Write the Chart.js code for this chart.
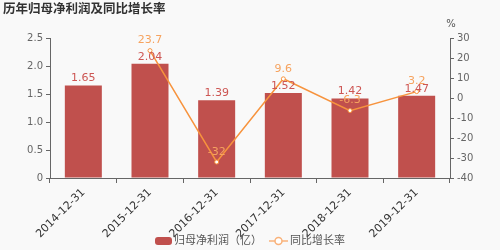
<!DOCTYPE html>
<html>
<head>
<meta charset="utf-8">
<script src="https://cdn.jsdelivr.net/npm/chart.js@4"></script>
<style>
  html, body { margin: 0; padding: 0; background: #f9f9f9; }
  #wrap { width: 500px; height: 250px; position: relative; }
</style>
</head>
<body>
<div id="wrap"><canvas id="chart" width="500" height="250"></canvas></div>
<script>
const categories = ['2014-12-31', '2015-12-31', '2016-12-31', '2017-12-31', '2018-12-31', '2019-12-31'];
const profitValues = [1.65, 2.04, 1.39, 1.52, 1.42, 1.47];
const growthValues = [null, 23.7, -32, 9.6, -6.3, 3.2];
const growthLabels = ['', '23.7', '-32', '9.6', '-6.3', '3.2'];

const FONT = '"DejaVu Sans", "Noto Sans CJK SC", sans-serif';
const BAR_COLOR = '#c0504d';
const LINE_COLOR = '#f7933d';

// labels over bars and points, title, legend, % unit
const decorPlugin = {
  id: 'decor',
  afterDatasetsDraw(chart) {
    const ctx = chart.ctx;
    ctx.save();
    ctx.textAlign = 'center';
    ctx.textBaseline = 'middle';
    ctx.font = '11px ' + FONT;
    const barMeta = chart.getDatasetMeta(0);
    barMeta.data.forEach((el, i) => {
      ctx.fillStyle = '#cd5653';
      ctx.fillText(profitValues[i].toFixed(2), el.x, el.y - 7);
    });
    const lineMeta = chart.getDatasetMeta(1);
    lineMeta.data.forEach((el, i) => {
      if (growthValues[i] === null) return;
      ctx.fillStyle = '#f6a35f';
      ctx.fillText(growthLabels[i], el.x, el.y - 10);
    });
    ctx.restore();
  },
  afterDraw(chart) {
    const ctx = chart.ctx;
    ctx.save();
    // title
    ctx.fillStyle = '#333';
    ctx.font = 'bold 12.5px ' + FONT;
    ctx.textBaseline = 'middle';
    ctx.textAlign = 'left';
    ctx.fillText('历年归母净利润及同比增长率', 3, 9.5);
    // unit
    ctx.font = '10px ' + FONT;
    ctx.fillStyle = '#555';
    ctx.textAlign = 'center';
    ctx.fillText('%', 451, 24);
    // legend
    ctx.fillStyle = BAR_COLOR;
    ctx.beginPath();
    ctx.roundRect(155, 237, 17, 8, 3);
    ctx.fill();
    ctx.font = '11px ' + FONT;
    ctx.fillStyle = '#555';
    ctx.textAlign = 'left';
    ctx.fillText('归母净利润（亿）', 174, 241);
    ctx.strokeStyle = '#f9b27a';
    ctx.lineWidth = 1.5;
    ctx.beginPath();
    ctx.moveTo(269, 241);
    ctx.lineTo(288, 241);
    ctx.stroke();
    ctx.fillStyle = '#fff';
    ctx.beginPath();
    ctx.arc(278.5, 241, 3.5, 0, Math.PI * 2);
    ctx.fill();
    ctx.stroke();
    ctx.fillStyle = '#555';
    ctx.fillText('同比增长率', 290, 241);
    ctx.restore();
  }
};

const ctx = document.getElementById('chart').getContext('2d');
new Chart(ctx, {
  type: 'bar',
  data: {
    labels: categories,
    datasets: [
      {
        type: 'bar',
        label: '归母净利润（亿）',
        data: profitValues,
        backgroundColor: BAR_COLOR,
        yAxisID: 'y',
        categoryPercentage: 1,
        barPercentage: 0.555,
        order: 2
      },
      {
        type: 'line',
        label: '同比增长率',
        data: growthValues,
        borderColor: LINE_COLOR,
        borderWidth: 1.5,
        pointRadius: 2,
        pointBorderWidth: 1,
        pointBackgroundColor: '#fff',
        pointBorderColor: LINE_COLOR,
        tension: 0,
        spanGaps: true,
        yAxisID: 'y1',
        order: 1
      }
    ]
  },
  options: {
    responsive: false,
    animation: false,
    layout: { padding: { top: 38, left: 0, right: 0, bottom: 0 } },
    plugins: {
      legend: { display: false },
      tooltip: { enabled: false }
    },
    scales: {
      x: {
        offset: true,
        grid: { display: true, drawOnChartArea: false, drawTicks: true, tickLength: 5, color: '#666', offset: true },
        border: { color: '#666' },
        ticks: { color: '#333', font: { family: FONT, size: 11 }, minRotation: 45, maxRotation: 45, padding: 3 },
        afterFit(scale) { scale.height = 72; }
      },
      y: {
        position: 'left',
        min: 0,
        max: 2.5,
        ticks: { stepSize: 0.5, color: '#666', font: { family: FONT, size: 10 }, padding: 3 },
        grid: { drawOnChartArea: false, tickLength: 4, color: '#666' },
        border: { color: '#666' },
        afterFit(scale) { scale.width = 50; }
      },
      y1: {
        position: 'right',
        min: -40,
        max: 30,
        ticks: { stepSize: 10, color: '#666', font: { family: FONT, size: 10 }, padding: 3 },
        grid: { drawOnChartArea: false, tickLength: 4, color: '#666' },
        border: { color: '#666' },
        afterFit(scale) { scale.width = 50; }
      }
    }
  },
  plugins: [decorPlugin]
});
</script>
</body>
</html>
